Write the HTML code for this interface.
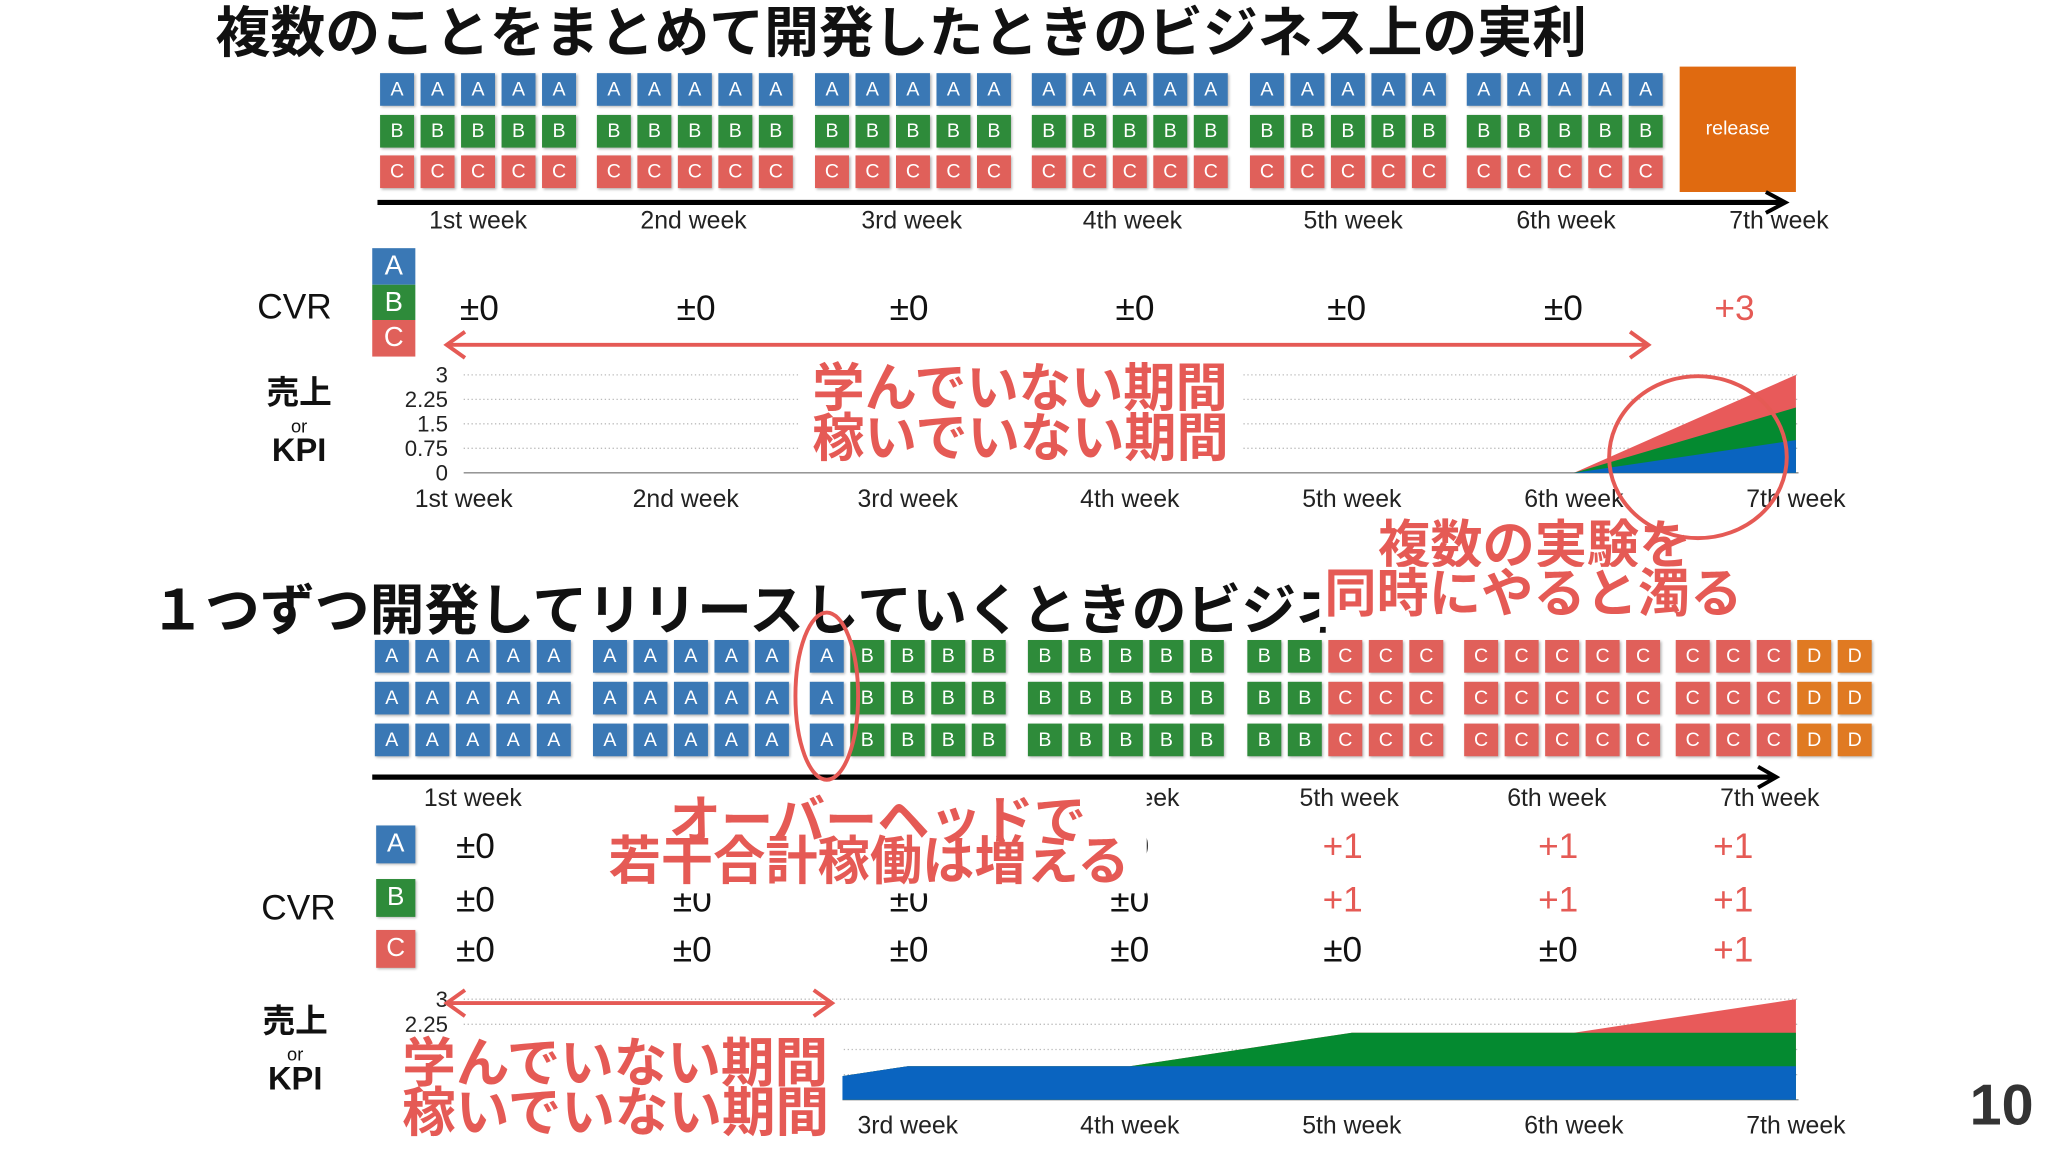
<!DOCTYPE html>
<html><head><meta charset="utf-8">
<style>
html,body{margin:0;padding:0;background:#fff;overflow:hidden}
#page{position:absolute;left:0;top:0;width:1568px;height:882px;transform:scale(1.30612);transform-origin:0 0;font-family:"Liberation Sans","Noto Sans CJK JP",sans-serif;color:#111}
.abs{position:absolute;white-space:nowrap}
.tile{position:absolute;width:26px;height:25px;color:#fff;font-size:15px;text-align:center;line-height:25px;box-shadow:1px 1px 2px rgba(0,0,0,.3)}
.wk{position:absolute;font-size:19px;transform:translateX(-50%);white-space:nowrap;color:#222}
.val{position:absolute;font-size:27px;transform:translateX(-50%);white-space:nowrap;font-weight:500}
.red{color:#e55a55}
.ov{position:absolute;color:#e55a55;font-weight:bold;font-size:40px;line-height:38px;white-space:nowrap}
</style></head><body>
<div id="page">
<div class="abs" style="left:165px;top:-8px;font-size:42px;font-weight:bold">複数のことをまとめて開発したときのビジネス上の実利</div>
<div class="abs" style="left:115px;top:434px;width:900px;overflow:hidden;font-size:42px;font-weight:bold">１つずつ開発してリリースしていくときのビジネス上の実利</div>
<div id="grid1"></div>
<div id="grid2"></div>
<div class="abs" style="left:1286px;top:51px;width:89px;height:96px;background:#e06a10;color:#fff;font-size:15px;text-align:center;line-height:96px">release</div>
<svg class="abs" style="left:0;top:0" width="1568" height="882">
<line x1="289" y1="155" x2="1366" y2="155" stroke="#000" stroke-width="4"/>
<polyline points="1352,147 1367,155 1352,163" fill="none" stroke="#000" stroke-width="3"/>
<line x1="285" y1="595" x2="1358" y2="595" stroke="#000" stroke-width="4"/>
<polyline points="1346,587 1360,595 1346,603" fill="none" stroke="#000" stroke-width="3"/>
</svg>
<div class="abs" style="left:197px;top:220px;font-size:27px">CVR</div>
<div class="abs" style="left:285px;top:190px;width:33px;">
<div style="background:#3a78b5;height:28px;color:#fff;text-align:center;font-size:21px;line-height:28px">A</div>
<div style="background:#2e8b3a;height:27px;color:#fff;text-align:center;font-size:21px;line-height:27px">B</div>
<div style="background:#e0605a;height:28px;color:#fff;text-align:center;font-size:21px;line-height:28px">C</div></div>
<div id="cvr1"></div>
<div class="abs" style="left:204px;top:290px;font-size:25px;line-height:22px;text-align:center;font-weight:bold">売上<br><span style="font-size:14px;font-weight:normal;line-height:12px">or</span><br>KPI</div>
<div class="abs" style="left:201px;top:771px;font-size:25px;line-height:22px;text-align:center;font-weight:bold">売上<br><span style="font-size:14px;font-weight:normal;line-height:12px">or</span><br>KPI</div>
<div class="abs" style="left:200px;top:680px;font-size:27px">CVR</div>
<div id="cvr2"></div>
<svg id="charts" class="abs" style="left:0;top:0" width="1568" height="882"></svg>
<div id="xl"></div>
<div class="abs" style="left:466px;top:602px;width:412px;height:82px;background:#fff"></div>
<div class="abs" style="left:296px;top:790px;width:349px;height:85px;background:#fff"></div>
<svg class="abs" style="left:0;top:0" width="1568" height="882">
<g stroke="#e55a55" stroke-width="3" fill="none">
<line x1="342" y1="264" x2="1262" y2="264"/><polyline points="356,254 342,264 356,274"/><polyline points="1248,254 1262,264 1248,274"/>
<line x1="342" y1="768" x2="637" y2="768"/><polyline points="356,758 342,768 356,778"/><polyline points="623,758 637,768 623,778"/>
<ellipse cx="1300" cy="350" rx="68" ry="62"/>
<ellipse cx="633" cy="533" rx="24" ry="64"/>
</g></svg>
<div class="ov" style="left:612px;top:279px;background:#fff;padding:0 10px">学んでいない期間<br>稼いでいない期間</div>
<div class="ov" style="left:1055px;top:399px">複数の実験を</div>
<div class="ov" style="left:1010px;top:434px;background:#fff;padding:2px 4px 6px 4px">同時にやると濁る</div>
<div class="ov" style="left:512px;top:610px">オーバーヘッドで</div>
<div class="ov" style="left:466px;top:641px">若干合計稼働は増える</div>
<div class="ov" style="left:304px;top:795px;padding:0 4px;font-size:41px">学んでいない期間<br>稼いでいない期間</div>
<div class="abs" style="left:1508px;top:822px;font-size:44px;font-weight:bold;color:#333">10</div>
</div>
<script>
const weeks=["1st week","2nd week","3rd week","4th week","5th week","6th week","7th week"];
const topGrid=[["AAAAA","BBBBB","CCCCC"],["AAAAA","BBBBB","CCCCC"],["AAAAA","BBBBB","CCCCC"],["AAAAA","BBBBB","CCCCC"],["AAAAA","BBBBB","CCCCC"],["AAAAA","BBBBB","CCCCC"]];
const botGrid=["AAAAA","AAAAA","ABBBB","BBBBB","BBCCC","CCCCC","CCCDD"];
const cvrTop=["±0","±0","±0","±0","±0","±0","+3"];
const cvrA=["±0","±0","±0","±0","+1","+1","+1"];
const cvrB=["±0","±0","±0","±0","+1","+1","+1"];
const cvrC=["±0","±0","±0","±0","±0","±0","+1"];
const yTicks=[0,0.75,1.5,2.25,3];
const top_blue=[0,0,0,0,0,0,1],top_green=[0,0,0,0,0,0,1],top_red=[0,0,0,0,0,0,1];
const bot_blue=[0,0,1,1,1,1,1],bot_green=[0,0,0,0,1,1,1],bot_red=[0,0,0,0,0,0,1];
const col={A:"#3a78b5",B:"#2e8b3a",C:"#e0605a",D:"#e07a22"};
function tile(parent,ch,x,y){const t=document.createElement('div');t.className='tile';t.style.left=x+'px';t.style.top=y+'px';t.style.background=col[ch];t.textContent=ch;


parent.appendChild(t);}
const g1=document.getElementById('grid1');
const s1=[291,457,624,790,957,1123];
topGrid.forEach((w,i)=>w.forEach((r,ri)=>[...r].forEach((c,k)=>tile(g1,c,s1[i]+k*31,56+ri*31.5))));
const g2=document.getElementById('grid2');
const s2=[287,454,620,787,955,1121,1283];
botGrid.forEach((r,i)=>[0,1,2].forEach(ri=>[...r].forEach((c,k)=>tile(g2,c,s2[i]+k*31,490+ri*32))));
function txt(parent,cls,s,x,y,name){const d=document.createElement('div');d.className=cls;d.textContent=s;d.style.left=x+'px';d.style.top=y+'px';


parent.appendChild(d);return d;}
const xl=document.getElementById('xl');
const wkTop=[366,531,698,867,1036,1199,1362], wkBot=[362,530,696,865,1033,1192,1355];
weeks.forEach((w,i)=>{txt(xl,'wk',w,wkTop[i],159,'week-label-top');txt(xl,'wk',w,wkBot[i],601,'week-label-bottom');});
const c1=document.getElementById('cvr1'); const cx1=[367,533,696,869,1031,1197,1328];
cvrTop.forEach((v,i)=>{txt(c1,'val'+(v[0]=='+'?' red':''),v,cx1[i],221,'cvr-value');});
const c2=document.getElementById('cvr2'); const cx2=[364,530,696,865,1028,1193,1327];
[cvrA,cvrB,cvrC].forEach((arr,ri)=>arr.forEach((v,i)=>txt(c2,'val'+(v[0]=='+'?' red':''),v,cx2[i],[633,674,712][ri],'cvr-value')));
[["A",632],["B",673],["C",712]].forEach(([c,y])=>{const d=txt(c2,'abs',c,288,y,'cvr-legend-'+c.toLowerCase());d.style.cssText+=';width:30px;height:29px;background:'+col[c]+';color:#fff;font-size:20px;text-align:center;line-height:29px;box-shadow:1px 1px 2px rgba(0,0,0,.3)';});
const svg=document.getElementById('charts');const NS='http://www.w3.org/2000/svg';
const xs=i=>355+170*i;
function chart(y0,y3,b,g,r,name){
 const ys=v=>y0-(y0-y3)*v/3;
 yTicks.forEach(t=>{const l=document.createElementNS(NS,'line');l.setAttribute('x1',355);l.setAttribute('x2',1377);l.setAttribute('y1',ys(t));l.setAttribute('y2',ys(t));l.setAttribute('stroke',t==0?'#888':'#bbb');l.setAttribute('stroke-dasharray',t==0?'':'1,2');
 
 
 svg.appendChild(l);
 const tx=document.createElementNS(NS,'text');tx.setAttribute('x',343);tx.setAttribute('y',ys(t)+6);tx.setAttribute('text-anchor','end');tx.setAttribute('font-size','17');tx.setAttribute('fill','#222');tx.textContent=String(t);
 
 
 svg.appendChild(tx);});
 const cum=[b,b.map((v,i)=>v+g[i]),b.map((v,i)=>v+g[i]+r[i])];
 const cols=['#0a64c0','#048a30','#e85a5a'];
 [2,1,0].forEach(k=>{let pts=cum[k].map((v,i)=>xs(i)+','+ys(v)).join(' ');pts+=' '+xs(6)+','+y0+' '+xs(0)+','+y0;
 const p=document.createElementNS(NS,'polygon');p.setAttribute('points',pts);p.setAttribute('fill',cols[k]);
 
 
 svg.appendChild(p);});
 weeks.forEach((w,i)=>{const tx=document.createElementNS(NS,'text');tx.setAttribute('x',xs(i));tx.setAttribute('y',y0+26);tx.setAttribute('text-anchor','middle');tx.setAttribute('font-size','19');tx.setAttribute('fill','#222');tx.textContent=w;
 
 
 svg.appendChild(tx);});
}
chart(362,287,top_blue,top_green,top_red,'top-chart');
chart(842,765,bot_blue,bot_green,bot_red,'bottom-chart');
</script>
</body></html>
